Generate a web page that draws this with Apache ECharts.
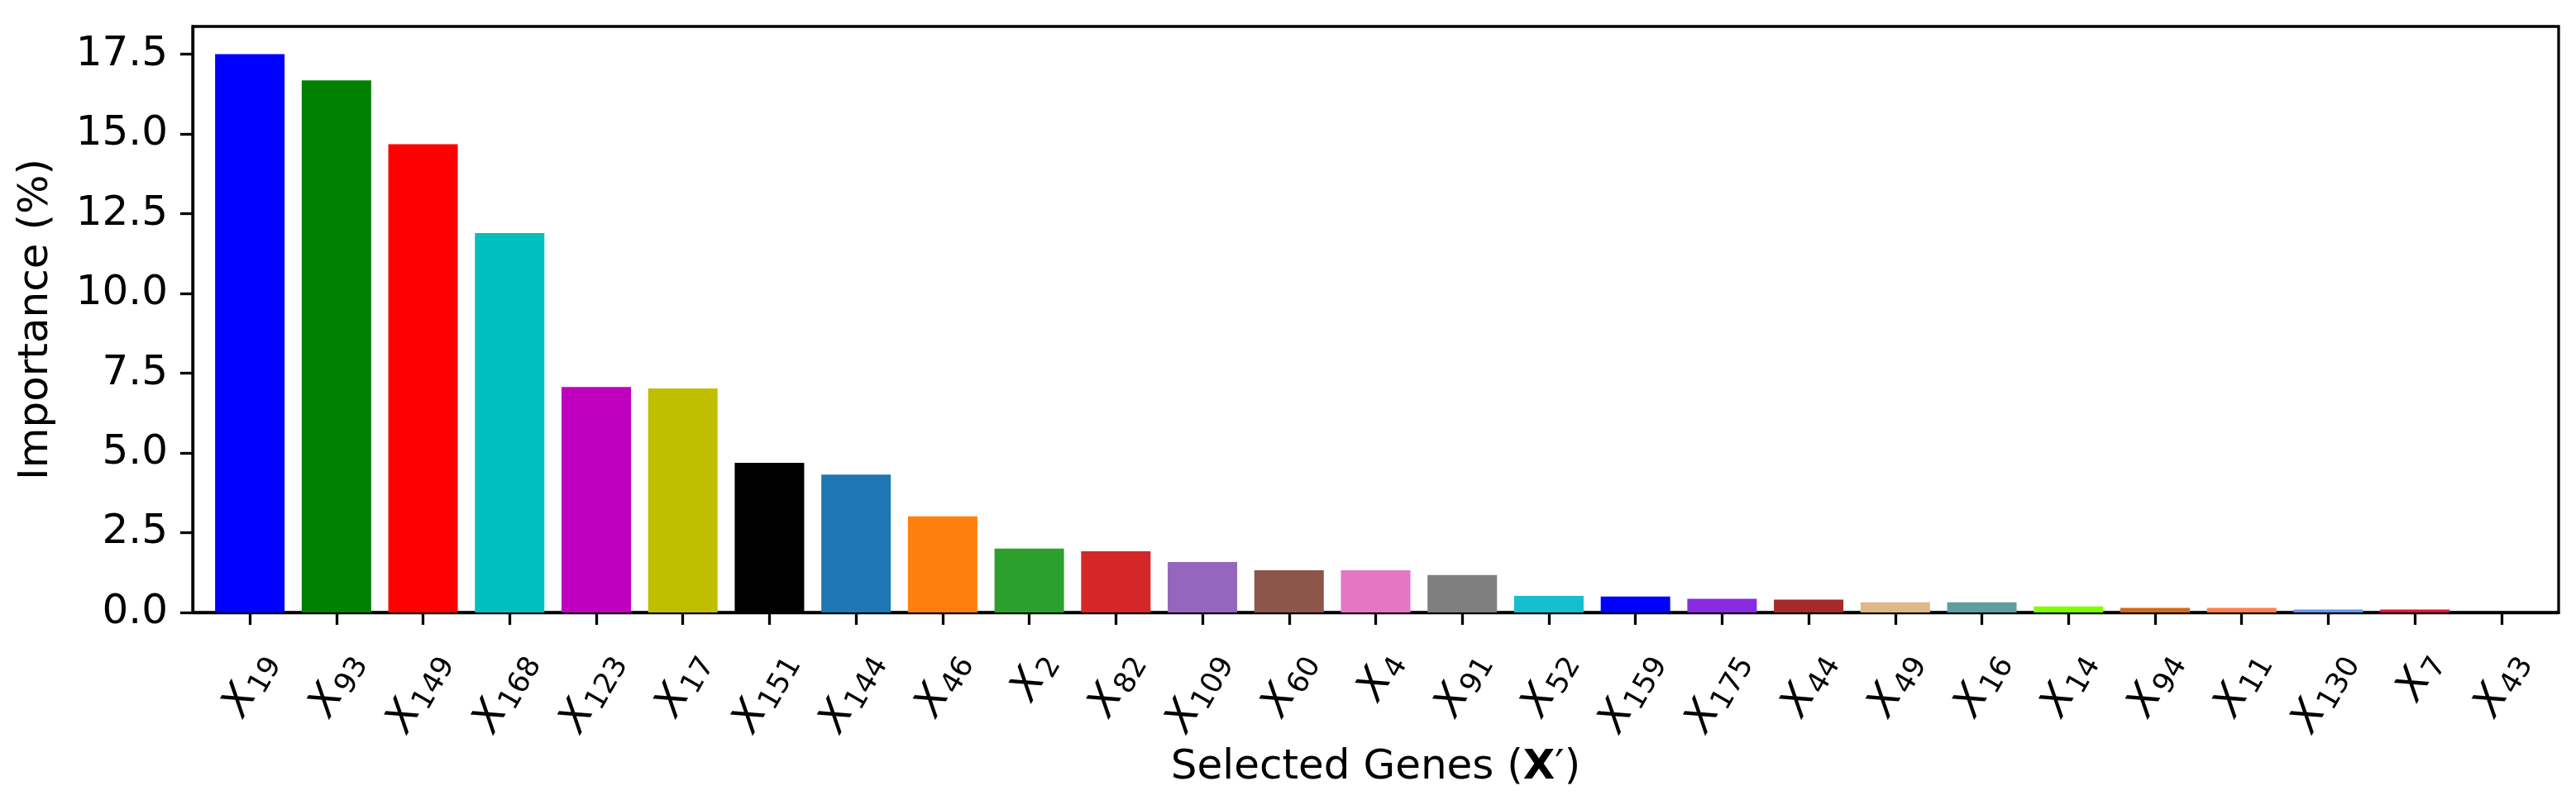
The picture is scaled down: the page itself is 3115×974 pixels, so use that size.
<!DOCTYPE html>
<html>
<head>
<meta charset="utf-8">
<script src="https://cdn.jsdelivr.net/npm/echarts@6/dist/echarts.min.js"></script>
<style>
html,body{margin:0;padding:0;background:#fff;}
#c{width:3115px;height:974px;}
</style>
</head>
<body>
<div id="c"></div>
<script>
// ---- data ----
const genes = ['19','93','149','168','123','17','151','144','46','2','82','109','60','4','91','52','159','175','44','49','16','14','94','11','130','7','43'];
const importance = [17.5,16.68,14.68,11.89,7.07,7.02,4.69,4.32,3.01,2.0,1.92,1.58,1.32,1.32,1.17,0.52,0.50,0.43,0.40,0.32,0.32,0.19,0.14,0.14,0.09,0.09,0.0];
const yTicks = [0,2.5,5,7.5,10,12.5,15,17.5];
const palette = ['#0000ff','#008000','#ff0000','#00bfbf','#bf00bf','#bfbf00','#000000','#1f77b4','#ff7f0e','#2ca02c','#d62728','#9467bd','#8c564b','#e377c2','#7f7f7f','#17becf','#0000ff','#8a2be2','#a52a2a','#deb887','#5f9ea0','#7fff00','#d2691e','#ff7f50','#6495ed','#dc143c','#00ffff'];

const labelShift = 0.2;
const idx = genes.map((g,i)=>i);
const chart = echarts.init(document.getElementById('c'), null, {renderer:'canvas'});
const FONT = 'DejaVu Sans';
chart.setOption({
  animation:false,
  backgroundColor:'#fff',
  grid:{left:233,right:21,top:32,bottom:233,show:true,borderColor:'#000',borderWidth:3.3,containLabel:false},
  xAxis:{
    type:'value',min:-0.66,max:26.66,
    splitLine:{show:false},
    axisLine:{show:true,onZero:false,lineStyle:{color:'#000',width:3.3}},
    axisTick:{show:true,length:15,lineStyle:{color:'#000',width:3.3},customValues:idx},
    axisLabel:{
      customValues:idx.map(i=>i+labelShift),
      rotate:60,margin:52,color:'#000',
      formatter:function(v){const i=Math.round(v-labelShift);return '{x|X}{s|'+genes[i]+'}';},
      rich:{
        x:{fontFamily:FONT,fontStyle:'italic',fontSize:50,color:'#000'},
        s:{fontFamily:FONT,fontSize:35,color:'#000',padding:[22,0,0,2]}
      }
    },
    name:'Selected Genes ({b|X}′)',nameLocation:'middle',nameGap:182,
    nameTextStyle:{fontFamily:FONT,fontSize:50,color:'#000',verticalAlign:'middle',
      rich:{b:{fontFamily:FONT,fontSize:50,fontWeight:'bold',color:'#000'}}}
  },
  yAxis:{
    type:'value',min:0,max:18.37,
    splitLine:{show:false},
    axisLine:{show:true,onZero:false,lineStyle:{color:'#000',width:3.3}},
    axisTick:{show:true,length:15,lineStyle:{color:'#000',width:3.3},customValues:yTicks},
    axisLabel:{customValues:yTicks,margin:30,fontFamily:FONT,fontSize:50,color:'#000',
      formatter:v=>v.toFixed(1)},
    name:'Importance (%)',nameLocation:'middle',nameGap:164,
    nameTextStyle:{fontFamily:FONT,fontSize:50,color:'#000'}
  },
  series:[{
    type:'bar',barWidth:84,
    data:importance.map((v,i)=>({value:[i,v],itemStyle:{color:palette[i]}}))
  }]
});
</script>
</body>
</html>
